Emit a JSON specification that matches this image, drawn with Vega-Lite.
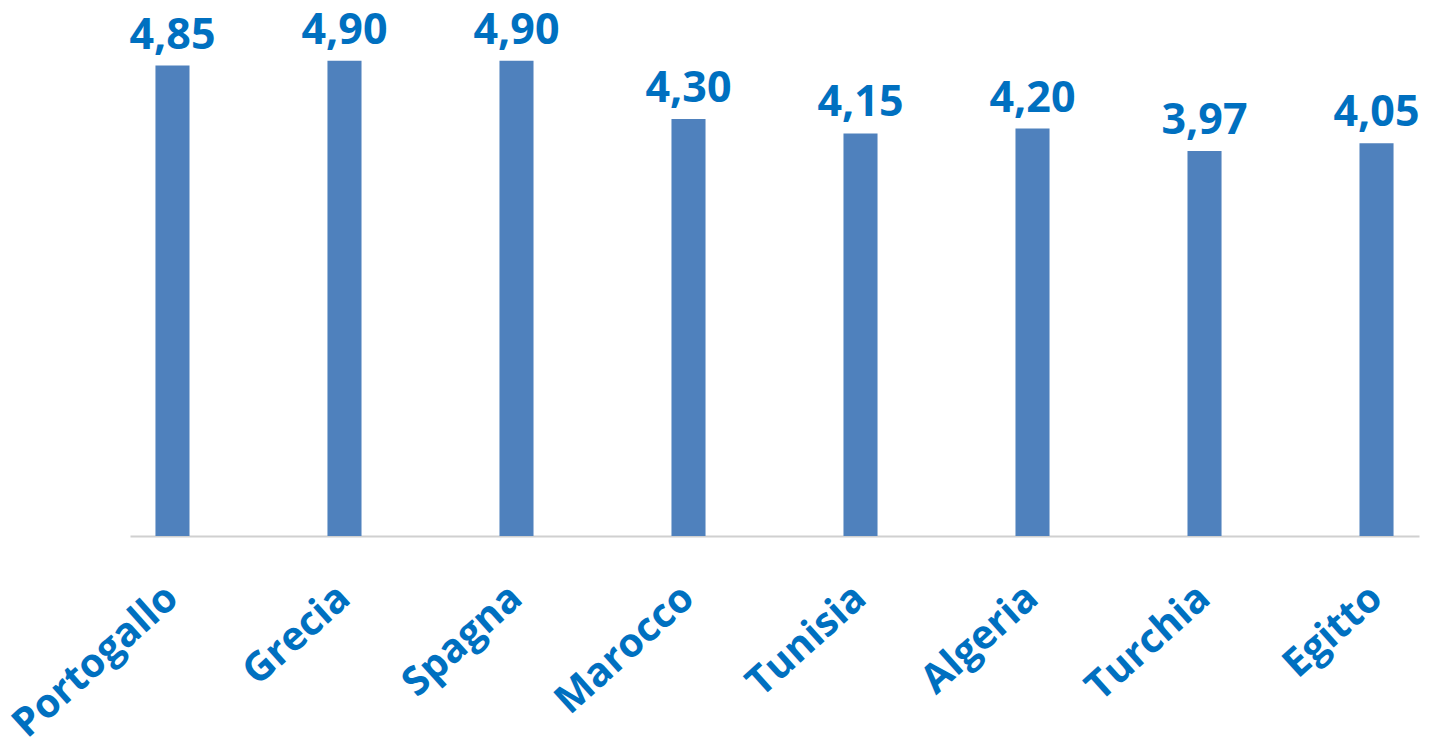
{
  "$schema": "https://vega.github.io/schema/vega-lite/v6.json",
  "autosize": {"type": "none"},
  "padding": {"left": 130, "top": 51, "right": 22, "bottom": 206},
  "width": 1289,
  "height": 485,
  "background": "white",
  "config": {
    "view": {"stroke": null},
    "locale": {"number": {"decimal": ",", "thousands": ".", "grouping": [3], "currency": ["€", ""]}}
  },
  "data": {
    "values": [
      {"paese": "Portogallo", "valore": 4.85},
      {"paese": "Grecia", "valore": 4.90},
      {"paese": "Spagna", "valore": 4.90},
      {"paese": "Marocco", "valore": 4.30},
      {"paese": "Tunisia", "valore": 4.15},
      {"paese": "Algeria", "valore": 4.20},
      {"paese": "Turchia", "valore": 3.97},
      {"paese": "Egitto", "valore": 4.05}
    ]
  },
  "encoding": {
    "x": {
      "field": "paese", "type": "nominal", "sort": null,
      "scale": {"paddingInner": 0.802, "paddingOuter": 0.148},
      "axis": {
        "title": null, "ticks": false, "grid": false,
        "domainColor": "#d0d0d0", "domainWidth": 2,
        "labelAngle": -42, "labelAlign": "right", "labelBaseline": "middle",
        "labelPadding": 56, "labelFont": "Open Sans", "labelFontWeight": "bold",
        "labelFontSize": 40, "labelColor": "#0070C0", "labelOverlap": false, "labelLimit": 0
      }
    },
    "y": {
      "field": "valore", "type": "quantitative",
      "scale": {"domain": [0, 5], "nice": false},
      "axis": null
    }
  },
  "layer": [
    {"mark": {"type": "bar", "color": "#4F81BD"}},
    {
      "mark": {"type": "text", "baseline": "alphabetic", "dy": -17, "font": "Open Sans", "fontWeight": "bold", "fontSize": 43, "color": "#0070C0", "clip": false},
      "encoding": {"text": {"field": "valore", "type": "quantitative", "format": ".2f"}}
    }
  ]
}
